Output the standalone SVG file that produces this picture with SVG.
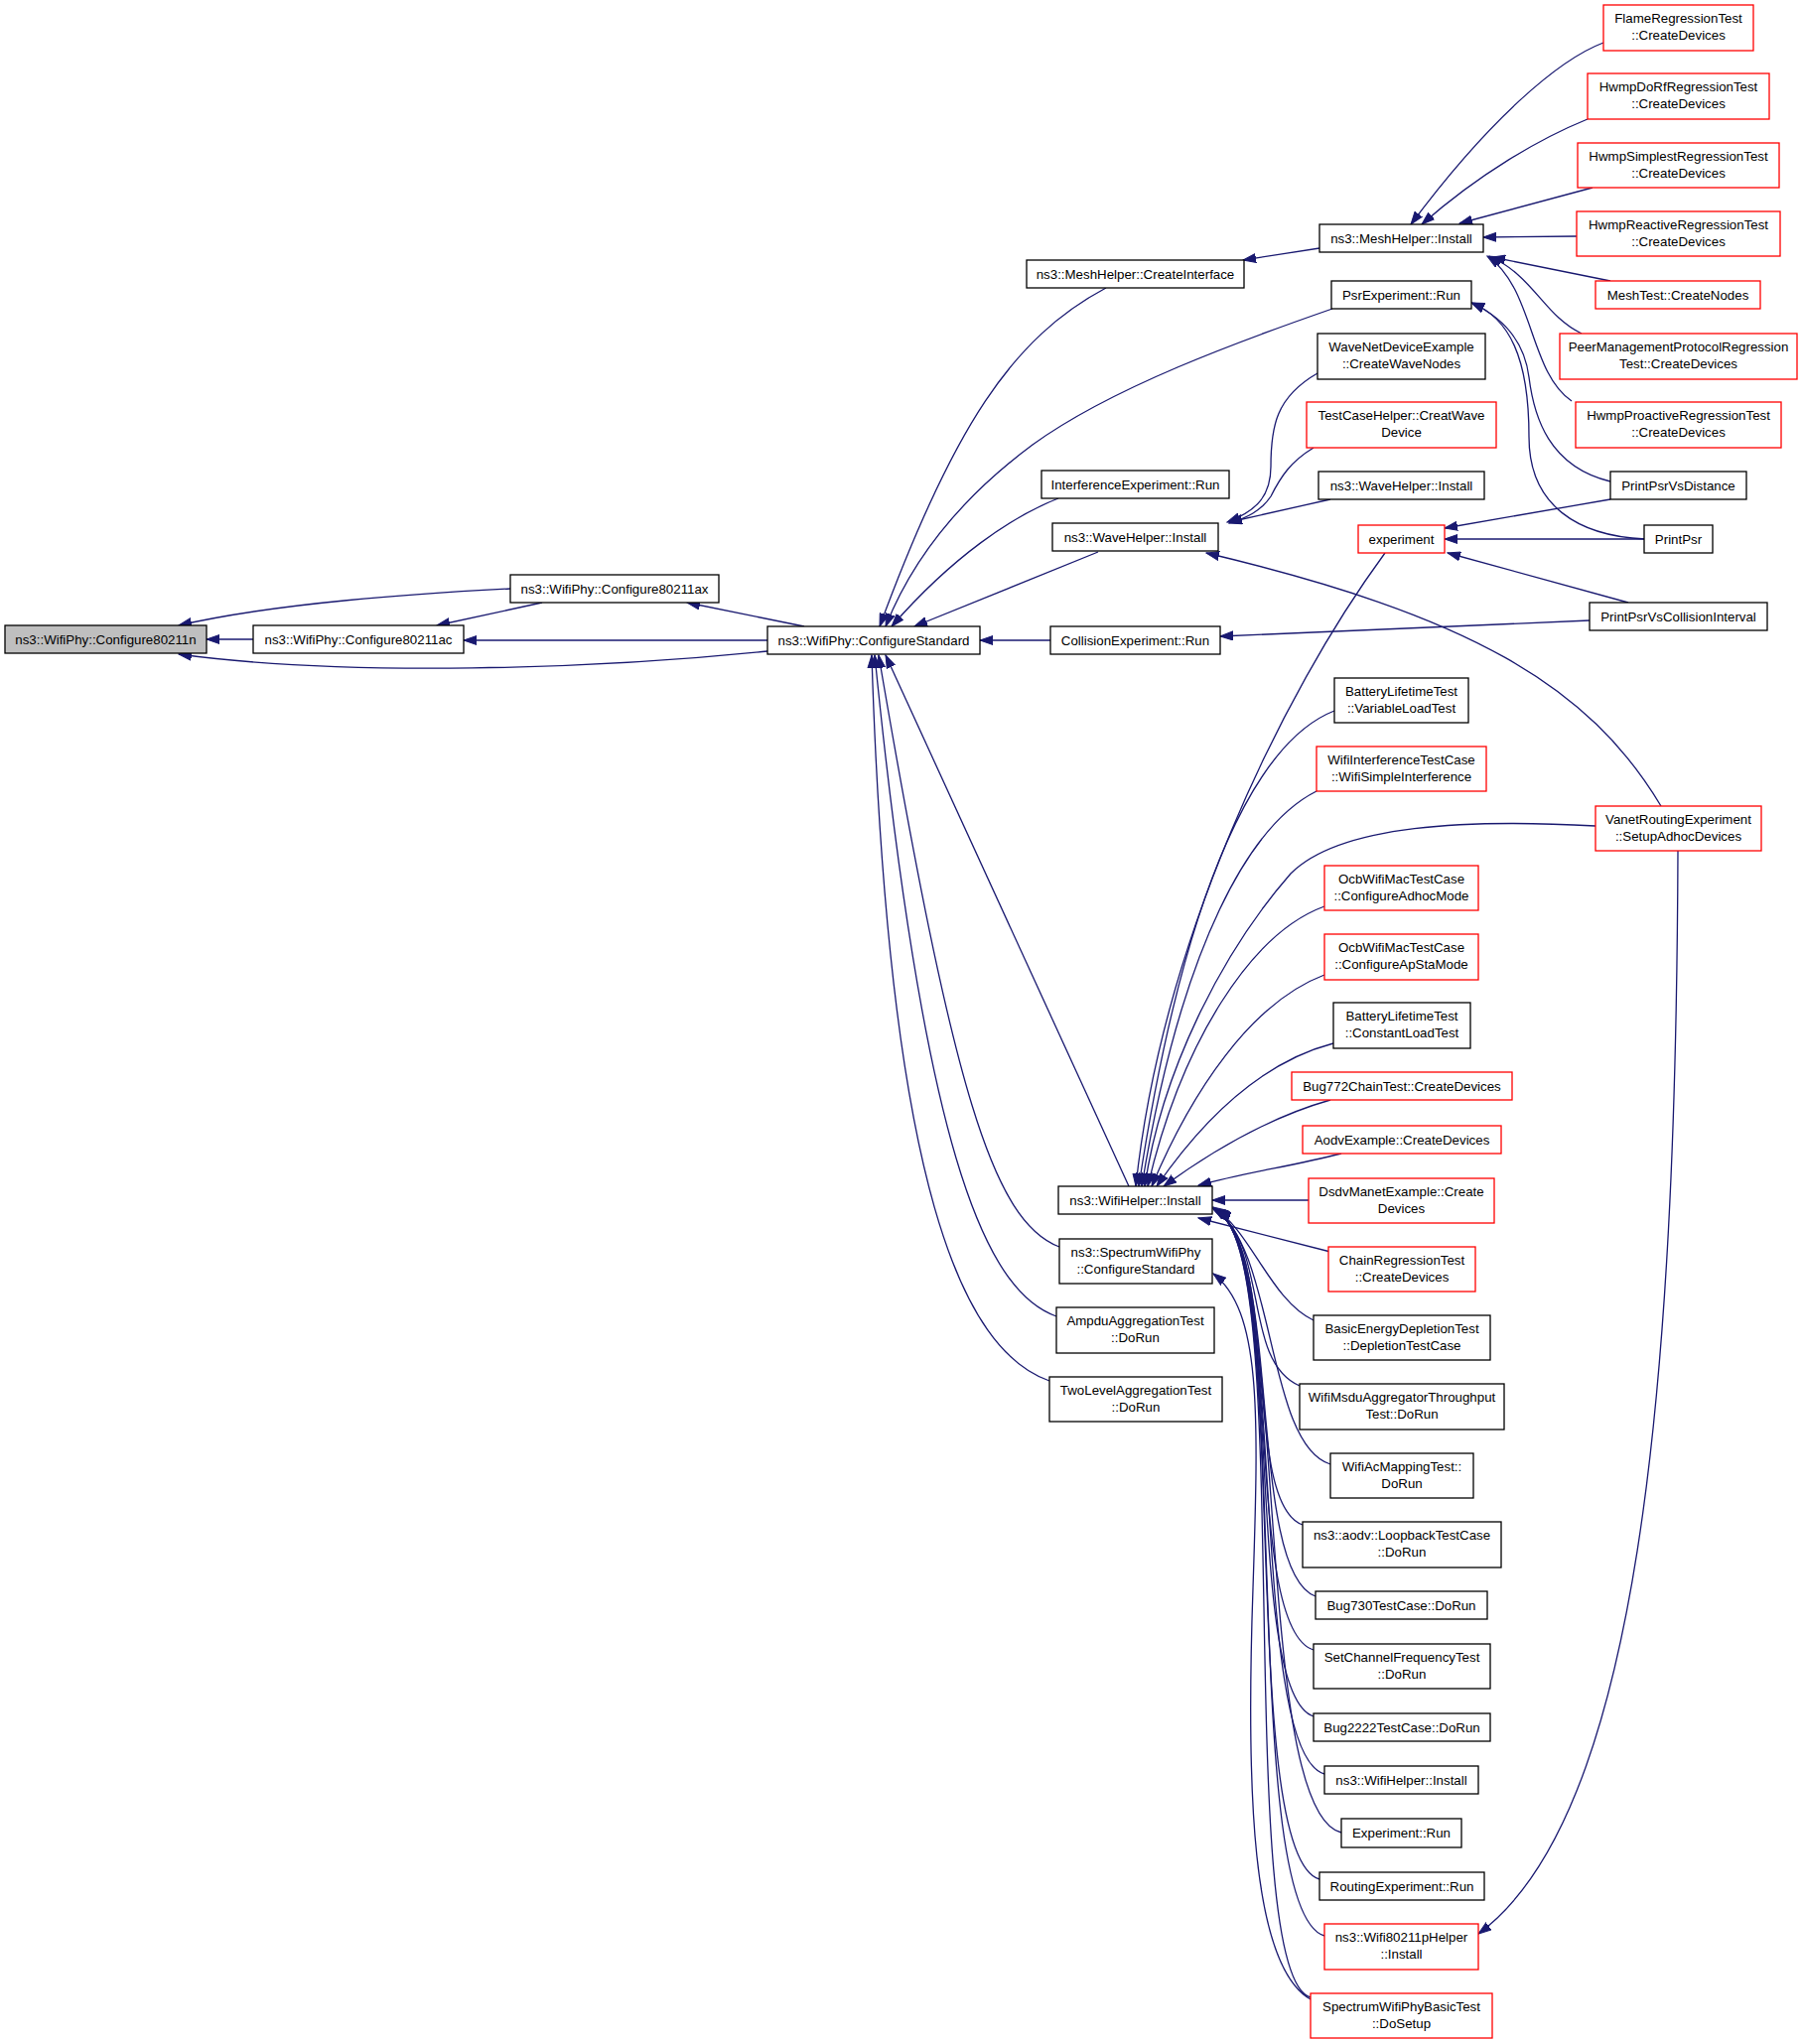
<svg xmlns="http://www.w3.org/2000/svg" width="1816" height="2059" viewBox="0 0 1816 2059">
<style>
.n rect{fill:#ffffff;stroke:#000000;stroke-width:1.3}
.r rect{stroke:#ff0000}
.g rect{fill:#bfbfbf}
text{font-family:"Liberation Sans",Arial,Helvetica,sans-serif;font-size:13.3px;text-anchor:middle;fill:#000000}
.e path{fill:none;stroke:#191970;stroke-width:1.3;marker-end:url(#a)}
</style>
<defs>
<marker id="a" markerUnits="userSpaceOnUse" markerWidth="14" markerHeight="10" refX="13" refY="5" orient="auto" viewBox="0 0 14 10"><path d="M0,0.5 L13,5 L0,9.5 z" fill="#191970" stroke="#191970" stroke-width="1"/></marker>
</defs>
<rect x="0" y="0" width="1816" height="2059" fill="#ffffff"/>
<g id="edges" class="e">
<path d="M255,644 L208,644"/>
<path d="M514,593 C420,598 280,607 180,630"/>
<path d="M773,656 C600,674 350,682 180,659"/>
<path d="M546,607 L440,630"/>
<path d="M773,645 L467,645"/>
<path d="M810,631 L692,607"/>
<path d="M1114,290 C1020,340 960,430 886,631"/>
<path d="M1342,311 C1250,343 1120,390 1040,448 C970,500 920,560 892,631"/>
<path d="M1066,502 C1020,520 960,560 898,631"/>
<path d="M1106,556 L921,631"/>
<path d="M1058,645 L987,645"/>
<path d="M1137,1195 L892,660"/>
<path d="M1067,1256 C1000,1230 960,1100 885,660"/>
<path d="M1064,1326 C990,1300 930,1150 881,660"/>
<path d="M1057,1391 C970,1360 895,1200 878,660"/>
<path d="M1329,250 L1252,262"/>
<path d="M1615,43 C1570,60 1500,120 1421,226"/>
<path d="M1599,120 C1550,140 1490,175 1432,226"/>
<path d="M1604,189 L1470,225"/>
<path d="M1588,238 L1494,239"/>
<path d="M1622,283 L1503,259"/>
<path d="M1593,336 C1555,318 1545,278 1500,258"/>
<path d="M1583,404 C1540,375 1545,290 1498,258"/>
<path d="M1622,485 C1560,470 1545,420 1540,380 C1535,340 1510,318 1482,305"/>
<path d="M1657,543 C1590,540 1540,510 1540,440 C1540,360 1520,320 1482,305"/>
<path d="M1327,376 C1285,400 1280,430 1280,470 C1280,500 1265,515 1236,526"/>
<path d="M1323,451 C1300,465 1290,480 1280,500 C1270,515 1255,522 1238,527"/>
<path d="M1340,503 L1238,526"/>
<path d="M1673,812 C1600,690 1480,620 1215,557"/>
<path d="M1622,503 L1455,532"/>
<path d="M1656,543 L1455,543"/>
<path d="M1640,607 L1458,557"/>
<path d="M1601,625 L1229,641"/>
<path d="M1395,557 C1290,700 1170,950 1144,1195"/>
<path d="M1344,716 C1270,745 1195,880 1147,1195"/>
<path d="M1326,797 C1260,830 1190,950 1150,1195"/>
<path d="M1607,832 C1480,825 1350,830 1300,880 C1230,960 1170,1080 1153,1195"/>
<path d="M1334,913 C1260,940 1190,1050 1156,1195"/>
<path d="M1334,982 C1260,1010 1200,1100 1160,1195"/>
<path d="M1343,1051 C1270,1070 1210,1130 1165,1195"/>
<path d="M1340,1108 C1280,1125 1220,1160 1172,1195"/>
<path d="M1351,1162 C1300,1175 1260,1180 1207,1194"/>
<path d="M1318,1209 L1221,1209"/>
<path d="M1340,1261 L1207,1227"/>
<path d="M1323,1330 C1280,1310 1260,1240 1222,1216"/>
<path d="M1309,1396 C1250,1370 1280,1255 1222,1217"/>
<path d="M1340,1475 C1275,1455 1285,1255 1222,1217"/>
<path d="M1312,1536 C1250,1515 1290,1250 1222,1218"/>
<path d="M1325,1608 C1255,1583 1292,1250 1223,1218"/>
<path d="M1323,1662 C1250,1640 1294,1250 1223,1219"/>
<path d="M1323,1729 C1250,1705 1296,1250 1224,1219"/>
<path d="M1334,1787 C1255,1765 1298,1250 1224,1220"/>
<path d="M1351,1846 C1260,1825 1300,1250 1225,1220"/>
<path d="M1329,1893 C1245,1870 1302,1250 1225,1221"/>
<path d="M1334,1950 C1245,1925 1304,1250 1226,1221"/>
<path d="M1320,2012 C1240,1990 1306,1250 1226,1222"/>
<path d="M1320,2014 C1260,1980 1255,1800 1262,1600 C1268,1420 1270,1320 1222,1283"/>
<path d="M1690,857 C1688,1400 1650,1830 1489,1948"/>
</g>
<g id="n80211n" class="n g"><rect x="5" y="630" width="203" height="28"/><text x="106.5" y="648.7">ns3::WifiPhy::Configure80211n</text></g>
<g id="n80211ac" class="n"><rect x="255" y="630" width="212" height="28"/><text x="361" y="648.7">ns3::WifiPhy::Configure80211ac</text></g>
<g id="n80211ax" class="n"><rect x="514" y="579" width="210" height="28"/><text x="619" y="597.7">ns3::WifiPhy::Configure80211ax</text></g>
<g id="ncs" class="n"><rect x="773" y="631" width="214" height="28"/><text x="880" y="649.7">ns3::WifiPhy::ConfigureStandard</text></g>
<g id="nci" class="n"><rect x="1034" y="262" width="219" height="28"/><text x="1143.5" y="280.7">ns3::MeshHelper::CreateInterface</text></g>
<g id="nmi" class="n"><rect x="1329" y="226" width="165" height="28"/><text x="1411.5" y="244.7">ns3::MeshHelper::Install</text></g>
<g id="npsr" class="n"><rect x="1341" y="283" width="141" height="28"/><text x="1411.5" y="301.7">PsrExperiment::Run</text></g>
<g id="nwnd" class="n"><rect x="1327" y="336" width="169" height="46"/><text x="1411.5" y="353.7">WaveNetDeviceExample</text><text x="1411.5" y="370.7">::CreateWaveNodes</text></g>
<g id="ntch" class="n r"><rect x="1316" y="405" width="191" height="46"/><text x="1411.5" y="422.7">TestCaseHelper::CreatWave</text><text x="1411.5" y="439.7">Device</text></g>
<g id="nier" class="n"><rect x="1049" y="474" width="189" height="28"/><text x="1143.5" y="492.7">InterferenceExperiment::Run</text></g>
<g id="nwhr" class="n"><rect x="1328" y="475" width="167" height="28"/><text x="1411.5" y="493.7">ns3::WaveHelper::Install</text></g>
<g id="nwhl" class="n"><rect x="1060" y="527" width="167" height="28"/><text x="1143.5" y="545.7">ns3::WaveHelper::Install</text></g>
<g id="nexp" class="n r"><rect x="1368" y="529" width="87" height="28"/><text x="1411.5" y="547.7">experiment</text></g>
<g id="ncol" class="n"><rect x="1058" y="631" width="171" height="28"/><text x="1143.5" y="649.7">CollisionExperiment::Run</text></g>
<g id="nbvl" class="n"><rect x="1344" y="683" width="135" height="45"/><text x="1411.5" y="700.7">BatteryLifetimeTest</text><text x="1411.5" y="717.7">::VariableLoadTest</text></g>
<g id="nwit" class="n r"><rect x="1326" y="752" width="171" height="45"/><text x="1411.5" y="769.7">WifiInterferenceTestCase</text><text x="1411.5" y="786.7">::WifiSimpleInterference</text></g>
<g id="nocb1" class="n r"><rect x="1334" y="872" width="155" height="45"/><text x="1411.5" y="889.7">OcbWifiMacTestCase</text><text x="1411.5" y="906.7">::ConfigureAdhocMode</text></g>
<g id="nocb2" class="n r"><rect x="1334" y="941" width="155" height="46"/><text x="1411.5" y="958.7">OcbWifiMacTestCase</text><text x="1411.5" y="975.7">::ConfigureApStaMode</text></g>
<g id="nbcl" class="n"><rect x="1343" y="1010" width="138" height="46"/><text x="1412" y="1027.7">BatteryLifetimeTest</text><text x="1412" y="1044.7">::ConstantLoadTest</text></g>
<g id="nb772" class="n r"><rect x="1301" y="1080" width="222" height="28"/><text x="1412" y="1098.7">Bug772ChainTest::CreateDevices</text></g>
<g id="naodv" class="n r"><rect x="1312" y="1134" width="200" height="28"/><text x="1412" y="1152.7">AodvExample::CreateDevices</text></g>
<g id="ndsdv" class="n r"><rect x="1318" y="1187" width="187" height="45"/><text x="1411.5" y="1204.7">DsdvManetExample::Create</text><text x="1411.5" y="1221.7">Devices</text></g>
<g id="nchain" class="n r"><rect x="1338" y="1256" width="148" height="45"/><text x="1412" y="1273.7">ChainRegressionTest</text><text x="1412" y="1290.7">::CreateDevices</text></g>
<g id="nbed" class="n"><rect x="1323" y="1325" width="178" height="45"/><text x="1412" y="1342.7">BasicEnergyDepletionTest</text><text x="1412" y="1359.7">::DepletionTestCase</text></g>
<g id="nmsdu" class="n"><rect x="1309" y="1394" width="206" height="46"/><text x="1412" y="1411.7">WifiMsduAggregatorThroughput</text><text x="1412" y="1428.7">Test::DoRun</text></g>
<g id="nacm" class="n"><rect x="1340" y="1464" width="144" height="45"/><text x="1412" y="1481.7">WifiAcMappingTest::</text><text x="1412" y="1498.7">DoRun</text></g>
<g id="nloop" class="n"><rect x="1312" y="1533" width="200" height="46"/><text x="1412" y="1550.7">ns3::aodv::LoopbackTestCase</text><text x="1412" y="1567.7">::DoRun</text></g>
<g id="nb730" class="n"><rect x="1325" y="1603" width="173" height="28"/><text x="1411.5" y="1621.7">Bug730TestCase::DoRun</text></g>
<g id="nscf" class="n"><rect x="1323" y="1656" width="178" height="45"/><text x="1412" y="1673.7">SetChannelFrequencyTest</text><text x="1412" y="1690.7">::DoRun</text></g>
<g id="nb2222" class="n"><rect x="1323" y="1726" width="178" height="28"/><text x="1412" y="1744.7">Bug2222TestCase::DoRun</text></g>
<g id="nwhr2" class="n"><rect x="1334" y="1779" width="155" height="28"/><text x="1411.5" y="1797.7">ns3::WifiHelper::Install</text></g>
<g id="nexpr" class="n"><rect x="1351" y="1832" width="121" height="29"/><text x="1411.5" y="1851">Experiment::Run</text></g>
<g id="nrexp" class="n"><rect x="1329" y="1886" width="166" height="28"/><text x="1412" y="1904.7">RoutingExperiment::Run</text></g>
<g id="nw80211p" class="n r"><rect x="1334" y="1938" width="155" height="46"/><text x="1411.5" y="1955.7">ns3::Wifi80211pHelper</text><text x="1411.5" y="1972.7">::Install</text></g>
<g id="nswpbt" class="n r"><rect x="1320" y="2008" width="183" height="45"/><text x="1411.5" y="2025.7">SpectrumWifiPhyBasicTest</text><text x="1411.5" y="2042.7">::DoSetup</text></g>
<g id="nwhl2" class="n"><rect x="1066" y="1195" width="155" height="28"/><text x="1143.5" y="1213.7">ns3::WifiHelper::Install</text></g>
<g id="nswp" class="n"><rect x="1067" y="1248" width="154" height="45"/><text x="1144" y="1265.7">ns3::SpectrumWifiPhy</text><text x="1144" y="1282.7">::ConfigureStandard</text></g>
<g id="nampdu" class="n"><rect x="1064" y="1317" width="159" height="46"/><text x="1143.5" y="1334.7">AmpduAggregationTest</text><text x="1143.5" y="1351.7">::DoRun</text></g>
<g id="ntwo" class="n"><rect x="1057" y="1387" width="174" height="45"/><text x="1144" y="1404.7">TwoLevelAggregationTest</text><text x="1144" y="1421.7">::DoRun</text></g>
<g id="nflame" class="n r"><rect x="1615" y="5" width="151" height="46"/><text x="1690.5" y="22.7">FlameRegressionTest</text><text x="1690.5" y="39.7">::CreateDevices</text></g>
<g id="ndorf" class="n r"><rect x="1599" y="74" width="183" height="46"/><text x="1690.5" y="91.7">HwmpDoRfRegressionTest</text><text x="1690.5" y="108.7">::CreateDevices</text></g>
<g id="nsimp" class="n r"><rect x="1589" y="144" width="203" height="45"/><text x="1690.5" y="161.7">HwmpSimplestRegressionTest</text><text x="1690.5" y="178.7">::CreateDevices</text></g>
<g id="nreact" class="n r"><rect x="1588" y="213" width="205" height="45"/><text x="1690.5" y="230.7">HwmpReactiveRegressionTest</text><text x="1690.5" y="247.7">::CreateDevices</text></g>
<g id="nmesht" class="n r"><rect x="1607" y="283" width="166" height="28"/><text x="1690" y="301.7">MeshTest::CreateNodes</text></g>
<g id="npeer" class="n r"><rect x="1571" y="336" width="239" height="46"/><text x="1690.5" y="353.7">PeerManagementProtocolRegression</text><text x="1690.5" y="370.7">Test::CreateDevices</text></g>
<g id="npro" class="n r"><rect x="1587" y="405" width="207" height="46"/><text x="1690.5" y="422.7">HwmpProactiveRegressionTest</text><text x="1690.5" y="439.7">::CreateDevices</text></g>
<g id="nppd" class="n"><rect x="1622" y="475" width="137" height="28"/><text x="1690.5" y="493.7">PrintPsrVsDistance</text></g>
<g id="npp" class="n"><rect x="1656" y="529" width="69" height="28"/><text x="1690.5" y="547.7">PrintPsr</text></g>
<g id="nppc" class="n"><rect x="1601" y="607" width="179" height="28"/><text x="1690.5" y="625.7">PrintPsrVsCollisionInterval</text></g>
<g id="nvanet" class="n r"><rect x="1607" y="812" width="167" height="45"/><text x="1690.5" y="829.7">VanetRoutingExperiment</text><text x="1690.5" y="846.7">::SetupAdhocDevices</text></g>
</svg>
